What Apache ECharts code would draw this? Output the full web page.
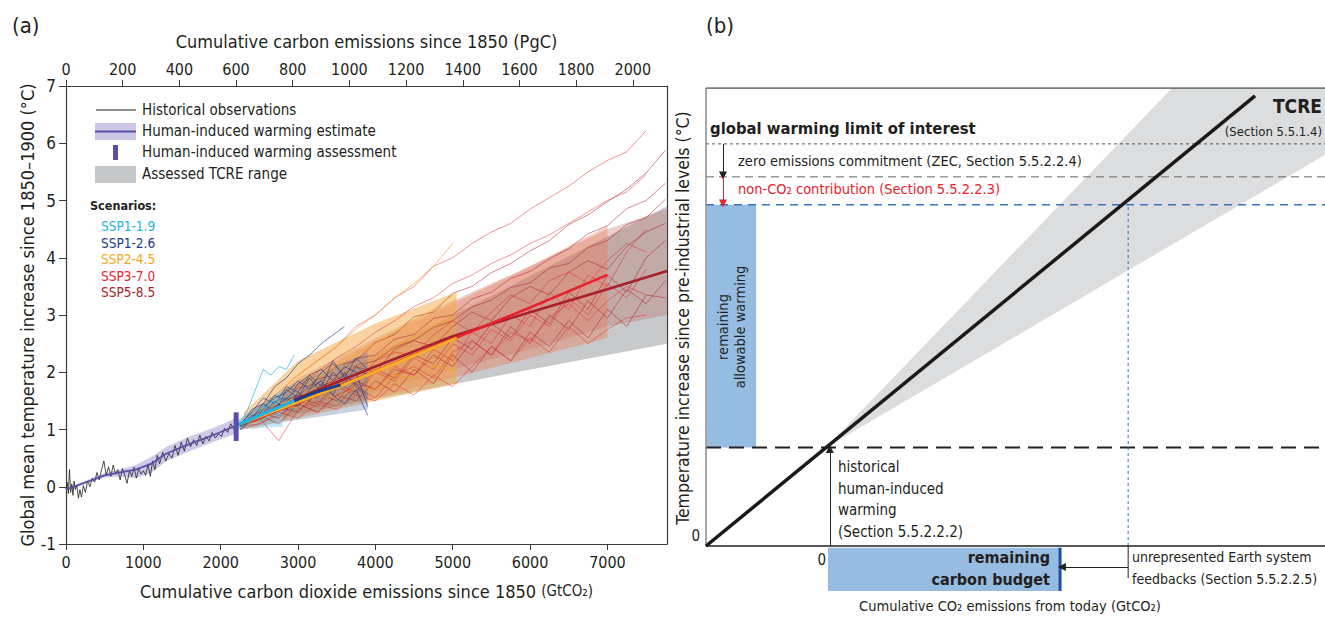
<!DOCTYPE html>
<html lang="en">
<head>
<meta charset="UTF-8">
<title>Remaining carbon budget</title>
<script src="https://cdn.jsdelivr.net/npm/echarts@6/dist/echarts.min.js"></script>
<style>
html, body { margin: 0; padding: 0; background: #fff; }
#chart { width: 1325px; height: 621px; }
</style>
</head>
<body>
<div id="chart"></div>
<script>
var FONT = '"Liberation Sans Narrow","Arial Narrow","DejaVu Sans Condensed",sans-serif';

// ---- panel (a) axes ----
var gtMax = 7770;
var gtPerPg = 3.664;
var gtTicks = [0, 1000, 2000, 3000, 4000, 5000, 6000, 7000];
var pgTicks = [0, 200, 400, 600, 800, 1000, 1200, 1400, 1600, 1800, 2000];

// historical observations (GtCO2, degC)
var obsData = [[0,-0.05],[15,0.08],[30,-0.12],[45,0.3],[60,-0.1],[75,0.05],[90,-0.15],[105,0.1],[120,-0.05],[140,0.02],[160,-0.2],[180,-0.05],[200,-0.18],[225,0.02],[250,-0.1],[280,0.1],[310,0.0],[340,0.15],[370,0.08],[400,0.25],[430,0.12],[460,0.3],[490,0.45],[520,0.2],[550,0.35],[580,0.18],[610,0.38],[640,0.22],[670,0.3],[700,0.12],[730,0.32],[760,0.2],[790,0.06],[820,0.28],[850,0.18],[880,0.34],[910,0.15],[940,0.32],[970,0.22],[1000,0.28],[1030,0.2],[1060,0.4],[1090,0.18],[1120,0.45],[1150,0.3],[1180,0.55],[1210,0.4],[1250,0.6],[1290,0.45],[1330,0.58],[1370,0.5],[1410,0.72],[1450,0.55],[1490,0.78],[1530,0.62],[1570,0.85],[1610,0.7],[1650,0.82],[1690,0.72],[1730,0.9],[1770,0.75],[1810,0.88],[1850,0.8],[1890,0.95],[1930,0.85],[1970,0.92],[2010,0.88],[2050,1.02],[2090,0.95],[2130,1.1],[2170,1.0],[2200,1.12]];

// human-induced warming estimate and range
var hiwX     = [0, 300, 500, 700, 900, 1100, 1300, 1600, 1900, 2200];
var hiwMid   = [-0.05, 0.1, 0.2, 0.25, 0.3, 0.4, 0.58, 0.75, 0.9, 1.07];
var hiwLo    = [-0.07, 0.07, 0.16, 0.18, 0.15, 0.24, 0.45, 0.62, 0.78, 0.93];
var hiwHi    = [-0.03, 0.13, 0.24, 0.3, 0.38, 0.52, 0.7, 0.88, 1.02, 1.2];
var hiwAssess = [[2200, 0.8], [2200, 1.3]];

// assessed TCRE range
var tcreX  = [2200, 7770];
var tcreLo = [1.07, 2.5];
var tcreHi = [1.07, 4.9];

// scenario ranges
var ssp585BandX  = [2400, 3000, 4000, 5000, 6000, 7000, 7770];
var ssp585BandLo = [1.05, 1.3, 1.65, 2.05, 2.4, 2.8, 3.0];
var ssp585BandHi = [1.25, 1.9, 2.6, 3.25, 3.85, 4.5, 4.85];
var ssp370BandX  = [2400, 3000, 4000, 5000, 6000, 7000];
var ssp370BandLo = [1.0, 1.25, 1.55, 1.9, 2.25, 2.6];
var ssp370BandHi = [1.3, 1.85, 2.55, 3.2, 3.85, 4.55];
var ssp245BandX  = [2300, 3000, 4000, 5050];
var ssp245BandLo = [1.0, 1.2, 1.5, 1.8];
var ssp245BandHi = [1.3, 2.2, 2.85, 3.4];
var ssp126BandX  = [2200, 2900, 3900];
var ssp126BandLo = [1.0, 1.15, 1.35];
var ssp126BandHi = [1.15, 1.75, 2.35];
var ssp119BandX  = [2200, 2800];
var ssp119BandLo = [1.0, 1.05];
var ssp119BandHi = [1.12, 1.7];

// scenario central estimates
var ssp119Mid = [[2200, 1.07], [2600, 1.3], [2950, 1.5]];
var ssp126Mid = [[2950, 1.5], [3250, 1.66], [3550, 1.78]];
var ssp245Mid = [[2300, 1.12], [3000, 1.48], [3550, 1.76], [4300, 2.18], [5050, 2.6]];
var ssp370Mid = [[2400, 1.15], [3000, 1.47], [4000, 2.02], [5000, 2.58], [6000, 3.13], [7000, 3.7]];
var ssp585Mid = [[2950, 1.52], [4000, 2.1], [5000, 2.63], [6000, 3.05], [7000, 3.45], [7770, 3.77]];

// individual model runs
var runX585 = [2250,2500,2750,3000,3250,3500,3750,4000,4250,4500,4750,5000,5250,5500,5750,6000,6250,6500,6750,7000,7250,7500,7750];
var ssp585Runs = [
  [1.08,1.32,1.42,1.72,1.8,2.12,2.2,2.52,2.66,2.97,3.05,3.38,3.5,3.74,3.9,4.12,4.3,4.58,4.75,4.98,5.2,5.48,5.88],
  [1.1,1.22,1.52,1.58,1.88,1.96,2.24,2.3,2.58,2.66,2.94,3.0,3.28,3.4,3.64,3.76,3.98,4.16,4.42,4.56,4.86,5.0,5.3],
  [1.05,1.18,1.42,1.5,1.74,1.86,2.12,2.2,2.44,2.56,2.78,2.9,3.14,3.26,3.48,3.56,3.82,3.9,4.18,4.3,4.58,4.7,5.02],
  [1.0,1.3,1.2,1.55,1.45,1.8,1.65,2.05,1.9,2.3,2.15,2.6,2.4,2.85,2.6,3.1,2.85,3.4,3.1,3.7,3.4,4.0,4.3],
  [1.1,1.15,1.4,1.3,1.65,1.5,1.85,1.7,2.05,1.95,2.3,2.1,2.55,2.3,2.8,2.5,3.0,2.75,3.25,2.95,3.45,3.2,3.6],
  [1.05,1.25,1.1,1.45,1.3,1.6,1.5,1.85,1.65,2.05,1.8,2.3,2.0,2.45,2.2,2.7,2.45,2.9,2.6,3.1,2.8,3.35,3.3],
  [1.05,1.2,1.45,1.6,1.55,1.9,2.1,2.0,2.4,2.55,2.45,2.8,3.05,2.9,3.3,3.5,3.35,3.75,3.95,3.8,4.2,4.45,4.6]
];
var runX370 = [2250,2500,2750,3000,3250,3500,3750,4000,4250,4500,4750,5000,5250,5500,5750,6000,6250,6500,6750,7000,7250,7500];
var ssp370Runs = [
  [1.1,1.4,1.65,1.95,2.2,2.45,2.8,3.0,3.3,3.5,3.85,4.0,4.25,4.45,4.6,4.85,5.05,5.25,5.5,5.7,5.85,6.22],
  [1.05,1.3,1.5,1.75,2.0,2.25,2.45,2.7,2.9,3.15,3.3,3.55,3.7,3.9,4.05,4.25,4.4,4.6,4.8,5.0,5.15,5.45],
  [1.0,1.2,0.8,1.35,1.5,1.4,1.8,1.7,2.1,1.95,2.4,2.2,2.7,2.5,3.0,2.8,3.4,3.1,3.7,3.5,4.1,4.5],
  [1.05,1.1,1.3,1.2,1.45,1.35,1.6,1.5,1.8,1.6,1.95,1.75,2.1,2.45,2.2,2.6,2.35,2.8,2.5,2.75,2.95,3.0],
  [1.1,1.2,1.35,1.5,1.4,1.75,1.6,2.0,1.85,2.25,2.05,2.5,2.3,2.75,2.55,3.0,2.8,3.3,3.0,3.55,3.3,3.8],
  [1.05,1.25,1.45,1.4,1.7,1.9,1.8,2.2,2.35,2.3,2.65,2.9,2.7,3.05,3.35,3.2,3.6,3.75,3.55,3.95,4.25,4.1],
  [1.0,1.1,1.25,1.45,1.3,1.6,1.75,1.55,1.95,2.1,1.9,2.35,2.55,2.3,2.7,2.55,2.95,3.2,2.9,3.25,3.5,3.35]
];
var runX245 = [2250,2500,2750,3000,3250,3500,3750,4000,4250,4500,4750,5000];
var ssp245Runs = [
  [1.1,1.35,1.65,1.95,2.2,2.45,2.75,3.0,3.3,3.55,3.85,4.25],
  [1.05,1.3,1.5,1.75,1.9,2.1,2.3,2.5,2.7,2.9,3.1,3.35],
  [1.1,1.2,1.45,1.55,1.75,1.9,2.1,2.25,2.45,2.6,2.8,2.95],
  [1.0,1.25,1.3,1.55,1.6,1.8,1.85,2.05,2.15,2.35,2.4,2.65],
  [1.05,1.15,1.35,1.4,1.6,1.55,1.75,1.7,1.95,1.9,2.1,2.05]
];
var runX126 = [2250,2400,2550,2700,2850,3000,3150,3300,3450,3600,3750,3900];
var ssp126Runs = [
  [1.05,1.35,1.45,1.75,1.9,2.15,2.3,2.5,2.65,2.8],
  [1.0,1.2,1.45,1.3,1.7,1.55,1.9,1.65,2.0,1.8,2.1,1.95],
  [1.1,1.15,1.3,1.5,1.35,1.65,1.5,1.8,1.6,1.45,1.7,1.25],
  [1.05,1.25,1.2,1.4,1.55,1.4,1.7,1.85,1.6,2.0,1.75,1.55],
  [1.1,1.3,1.55,1.45,1.75,1.65,1.95,2.05,1.85,2.1,2.0,1.4],
  [1.0,1.15,1.35,1.6,1.5,1.8,1.95,1.75,2.2,1.9,2.25,2.05],
  [1.05,1.2,1.4,1.55,1.65,1.85,1.7,2.0,2.15,1.95,1.8,1.6]
];
var runX119 = [2250,2350,2450,2550,2650,2750,2850,2950];
var ssp119Runs = [
  [1.1,1.35,1.7,2.05,1.95,2.1,2.05,2.3],
  [1.05,1.2,1.35,1.3,1.5,1.45,1.6,1.55],
  [1.1,1.15,1.25,1.4,1.35,1.55,1.5,1.7],
  [1.0,1.1,1.2,1.15,1.3,1.25,1.4,1.35]
];

// ---- panel (b) schematic, arbitrary units (x 0-100, y 0-100) ----
var tcreLineB  = [[0, 0], [88.7, 98.3]];
var tcreRangeB = [[19.4, 21.5], [75.3, 100], [100, 100], [100, 85.4]];
var limitLevel = 87.8;
var zecLevel   = 80.6;
var co2Level   = 74.5;
var histLevel  = 21.5;
var todayX     = 19.4;
var budgetEnd  = 57.2;
var tcreBudgetX = 68.2;

var SSP_COLORS = { s119: '#1fb3e3', s126: '#1d3d8c', s245: '#f6a623', s370: '#e8222b', s585: '#a8202c' };

function zipXY(xs, ys) {
  var out = [];
  for (var i = 0; i < ys.length; i++) out.push([xs[i], ys[i]]);
  return out;
}

function polySeries(points, fill, xi, yi, z) {
  return {
    type: 'custom', xAxisIndex: xi, yAxisIndex: yi, z: z, silent: true, animation: false,
    data: [[points[0][0], points[0][1]]],
    renderItem: function (params, api) {
      return {
        type: 'polygon',
        shape: { points: points.map(function (p) { return api.coord(p); }) },
        style: { fill: fill }
      };
    }
  };
}

function bandSeries(xs, lo, hi, fill, z) {
  var pts = zipXY(xs, lo).concat(zipXY(xs, hi).reverse());
  return polySeries(pts, fill, 0, 0, z);
}

function lineA(data, color, width, opacity, z) {
  return {
    type: 'line', xAxisIndex: 0, yAxisIndex: 0, data: data, symbol: 'none', silent: true,
    animation: false, z: z, lineStyle: { color: color, width: width, opacity: opacity }
  };
}

function lineB(data, color, width, dash, z) {
  return {
    type: 'line', xAxisIndex: 2, yAxisIndex: 2, data: data, symbol: 'none', silent: true,
    animation: false, z: z || 4, lineStyle: { color: color, width: width, type: dash || 'solid' }
  };
}

function arrowB(from, to, color) {
  return {
    type: 'lines', coordinateSystem: 'cartesian2d', xAxisIndex: 2, yAxisIndex: 2, silent: true,
    animation: false, z: 6, symbol: ['none', 'triangle'], symbolSize: [0, 8],
    lineStyle: { color: color, width: 1, opacity: 1, curveness: 0 },
    data: [{ coords: [from, to] }]
  };
}

var series = [];
// TCRE range + scenario ranges
series.push(bandSeries(tcreX, tcreLo, tcreHi, '#c8c9cb', 1));
series.push(bandSeries(ssp585BandX, ssp585BandLo, ssp585BandHi, 'rgba(178,98,86,0.3)', 2));
series.push(bandSeries(ssp370BandX, ssp370BandLo, ssp370BandHi, 'rgba(236,122,92,0.4)', 2));
series.push(bandSeries(ssp245BandX, ssp245BandLo, ssp245BandHi, 'rgba(244,168,70,0.5)', 2));
series.push(bandSeries(ssp126BandX, ssp126BandLo, ssp126BandHi, 'rgba(100,120,160,0.35)', 2));
series.push(bandSeries(ssp119BandX, ssp119BandLo, ssp119BandHi, 'rgba(150,212,236,0.55)', 2));

// model runs
ssp585Runs.forEach(function (r) { series.push(lineA(zipXY(runX585, r), SSP_COLORS.s585, 0.8, 0.65, 3)); });
ssp370Runs.forEach(function (r) { series.push(lineA(zipXY(runX370, r), SSP_COLORS.s370, 0.8, 0.6, 3)); });
ssp245Runs.forEach(function (r) { series.push(lineA(zipXY(runX245, r), SSP_COLORS.s245, 0.8, 0.8, 3)); });
ssp126Runs.forEach(function (r) { series.push(lineA(zipXY(runX126, r), SSP_COLORS.s126, 0.8, 0.8, 3)); });
ssp119Runs.forEach(function (r) { series.push(lineA(zipXY(runX119, r), SSP_COLORS.s119, 0.8, 0.85, 3)); });

// history
series.push(bandSeries(hiwX, hiwLo, hiwHi, 'rgba(190,182,226,0.75)', 4));
series.push(lineA(obsData, '#222', 0.8, 1, 5));
series.push(lineA(zipXY(hiwX, hiwMid), '#5b4ea6', 1.8, 1, 6));

// central estimates
series.push(lineA(ssp585Mid, SSP_COLORS.s585, 2.6, 1, 7));
series.push(lineA(ssp370Mid, SSP_COLORS.s370, 2.6, 1, 7));
series.push(lineA(ssp245Mid, '#f8b21c', 2.6, 1, 7));
series.push(lineA(ssp126Mid, SSP_COLORS.s126, 3, 1, 8));
series.push(lineA(ssp119Mid, SSP_COLORS.s119, 3, 1, 8));
series.push(lineA(hiwAssess, '#5b4ea6', 5, 1, 9));

// ---- panel (b) ----
series.push(polySeries(tcreRangeB, '#dcdddf', 2, 2, 1));
series.push(polySeries([[0.15, histLevel], [8.1, histLevel], [8.1, co2Level], [0.15, co2Level]], '#96bce2', 2, 2, 2));
series.push(polySeries([[19.7, -0.4], [budgetEnd, -0.4], [budgetEnd, -9.8], [19.7, -9.8]], '#96bce2', 2, 2, 2));
series.push(lineB([[budgetEnd, -0.4], [budgetEnd, -9.8]], '#1f4f9e', 3, 'solid', 3));
series.push(lineB([[0, limitLevel], [100, limitLevel]], '#555', 1, [3, 3]));
series.push(lineB([[0, zecLevel], [100, zecLevel]], '#666', 1, [8, 5]));
series.push(lineB([[0, co2Level], [100, co2Level]], '#3a74c0', 1.5, [8, 6]));
series.push(lineB([[0, histLevel], [100, histLevel]], '#222', 2, [15, 8]));
series.push(lineB([[tcreBudgetX, 0], [tcreBudgetX, co2Level]], '#3a74c0', 1, [3, 3]));
series.push(lineB([[tcreBudgetX, 0], [tcreBudgetX, -7]], '#222', 1));
series.push(lineB([[0, 100], [100, 100]], '#555', 1.5));
series.push(lineB([[0, 0], [0, 100]], '#8a8a8a', 1.5));
series.push(lineB([[0, 0], [100, 0]], '#222', 1.5));
series.push(lineB(tcreLineB, '#1a1a1a', 3.5, 'solid', 5));
series.push(arrowB([2.75, limitLevel], [2.75, zecLevel + 0.3], '#222'));
series.push(arrowB([2.75, zecLevel], [2.75, co2Level + 0.3], '#e8222b'));
series.push(arrowB([20.0, 0], [20.0, histLevel - 0.3], '#222'));
series.push(arrowB([tcreBudgetX, -4.6], [budgetEnd + 0.3, -4.6], '#222'));

function txt(x, y, text, size, opts) {
  opts = opts || {};
  return {
    type: 'text', x: x, y: y, rotation: opts.rotation || 0, silent: true, z: 20,
    style: {
      text: text, fill: opts.color || '#231f20', fontSize: size, fontFamily: FONT,
      fontWeight: opts.bold ? 'bold' : 'normal', lineHeight: opts.lineHeight || size * 1.2,
      align: opts.align || 'left', verticalAlign: opts.valign || 'middle',
      textAlign: opts.align || 'left', textVerticalAlign: opts.valign || 'middle'
    }
  };
}

var graphics = [
  txt(12, 25, '(a)', 22),
  txt(706, 25, '(b)', 22),
  // legend (a)
  { type: 'line', silent: true, z: 20, shape: { x1: 96, y1: 110, x2: 136, y2: 110 }, style: { stroke: '#222', lineWidth: 1 } },
  { type: 'rect', silent: true, z: 20, shape: { x: 95, y: 123, width: 41, height: 17 }, style: { fill: '#cdc7e7' } },
  { type: 'line', silent: true, z: 21, shape: { x1: 95, y1: 131.5, x2: 136, y2: 131.5 }, style: { stroke: '#5b4ea6', lineWidth: 2 } },
  { type: 'rect', silent: true, z: 20, shape: { x: 113, y: 145, width: 5, height: 15 }, style: { fill: '#5b4ea6' } },
  { type: 'rect', silent: true, z: 20, shape: { x: 95, y: 166, width: 41, height: 17 }, style: { fill: '#c7c8ca' } },
  txt(142, 110, 'Historical observations', 15),
  txt(142, 131, 'Human-induced warming estimate', 15),
  txt(142, 152, 'Human-induced warming assessment', 15),
  txt(142, 174, 'Assessed TCRE range', 15),
  txt(90, 205, 'Scenarios:', 12.5, { bold: true }),
  txt(101, 226, 'SSP1-1.9', 13.5, { color: SSP_COLORS.s119 }),
  txt(101, 243, 'SSP1-2.6', 13.5, { color: SSP_COLORS.s126 }),
  txt(101, 259, 'SSP2-4.5', 13.5, { color: SSP_COLORS.s245 }),
  txt(101, 276, 'SSP3-7.0', 13.5, { color: SSP_COLORS.s370 }),
  txt(101, 292, 'SSP5-8.5', 13.5, { color: SSP_COLORS.s585 }),
  // panel (b) annotations
  txt(683, 318, 'Temperature increase since pre-industrial levels (°C)', 17.5, { rotation: Math.PI / 2, align: 'center' }),
  txt(710, 128, 'global warming limit of interest', 16.5, { bold: true }),
  txt(738, 161, 'zero emissions commitment (ZEC, Section 5.5.2.2.4)', 14.5),
  txt(738, 189, 'non-CO₂ contribution (Section 5.5.2.2.3)', 14.5, { color: '#e8222b' }),
  txt(1322, 106, 'TCRE', 19, { bold: true, align: 'right' }),
  txt(1322, 131, '(Section 5.5.1.4)', 13, { align: 'right' }),
  txt(731, 327, 'remaining\nallowable warming', 14.5, { rotation: Math.PI / 2, align: 'center', lineHeight: 17 }),
  txt(838, 456, 'historical\nhuman-induced\nwarming\n(Section 5.5.2.2.2)', 15, { valign: 'top', lineHeight: 21.7 }),
  txt(700, 536, '0', 15, { align: 'right' }),
  txt(826, 560, '0', 15, { align: 'right' }),
  txt(1050, 546, 'remaining\ncarbon budget', 16, { bold: true, align: 'right', valign: 'top', lineHeight: 22 }),
  txt(1132, 568, 'unrepresented Earth system\nfeedbacks (Section 5.5.2.2.5)', 14, { lineHeight: 22 }),
  txt(1010, 606, 'Cumulative CO₂ emissions from today (GtCO₂)', 14.5, { align: 'center' })
];

function plainNumber(v) { return String(Math.round(v)); }

var axisColor = '#3a3a3a';
var option = {
  animation: false,
  backgroundColor: '#fff',
  textStyle: { fontFamily: FONT },
  grid: [
    { left: 66, top: 86, width: 601, height: 458 },
    { left: 706, top: 88, width: 619, height: 522.12 }
  ],
  xAxis: [
    {
      type: 'value', gridIndex: 0, position: 'bottom', min: 0, max: gtMax,
      name: 'Cumulative carbon dioxide emissions since 1850 {s|(GtCO₂)}',
      nameLocation: 'middle', nameGap: 38,
      nameTextStyle: { fontSize: 18, color: '#231f20', fontFamily: FONT, rich: { s: { fontSize: 15, fontFamily: FONT, color: '#231f20' } } },
      axisLine: { onZero: false, lineStyle: { color: axisColor, width: 1.2 } },
      axisTick: { show: true, length: 6, customValues: gtTicks, lineStyle: { color: axisColor } },
      axisLabel: { customValues: gtTicks, formatter: plainNumber, fontSize: 16, color: '#231f20', margin: 10, fontFamily: FONT },
      splitLine: { show: false }
    },
    {
      type: 'value', gridIndex: 0, position: 'top', min: 0, max: gtMax / gtPerPg,
      name: 'Cumulative carbon emissions since 1850 (PgC)',
      nameLocation: 'middle', nameGap: 36,
      nameTextStyle: { fontSize: 18, color: '#231f20', fontFamily: FONT },
      axisLine: { onZero: false, lineStyle: { color: axisColor, width: 1.2 } },
      axisTick: { show: true, length: 6, customValues: pgTicks, lineStyle: { color: axisColor } },
      axisLabel: { customValues: pgTicks, formatter: plainNumber, fontSize: 16, color: '#231f20', margin: 9, fontFamily: FONT },
      splitLine: { show: false }
    },
    { type: 'value', gridIndex: 1, min: 0, max: 100, show: false }
  ],
  yAxis: [
    {
      type: 'value', gridIndex: 0, position: 'left', min: -1, max: 7, interval: 1,
      name: 'Global mean temperature increase since 1850–1900 (°C)',
      nameLocation: 'middle', nameGap: 30,
      nameTextStyle: { fontSize: 18, color: '#231f20', fontFamily: FONT },
      axisLine: { onZero: false, lineStyle: { color: axisColor, width: 1.2 } },
      axisTick: { show: true, length: 7, lineStyle: { color: axisColor } },
      axisLabel: { fontSize: 17, color: '#231f20', margin: 10, fontFamily: FONT },
      splitLine: { show: false }
    },
    {
      type: 'value', gridIndex: 0, position: 'right', min: -1, max: 7, interval: 1,
      axisLine: { show: true, onZero: false, lineStyle: { color: axisColor, width: 1.2 } },
      axisTick: { show: false }, axisLabel: { show: false }, splitLine: { show: false }
    },
    { type: 'value', gridIndex: 1, min: -14, max: 100, show: false }
  ],
  series: series,
  graphic: graphics
};

var chart = echarts.init(document.getElementById('chart'), null, { renderer: 'svg' });
chart.setOption(option);
</script>
</body>
</html>
